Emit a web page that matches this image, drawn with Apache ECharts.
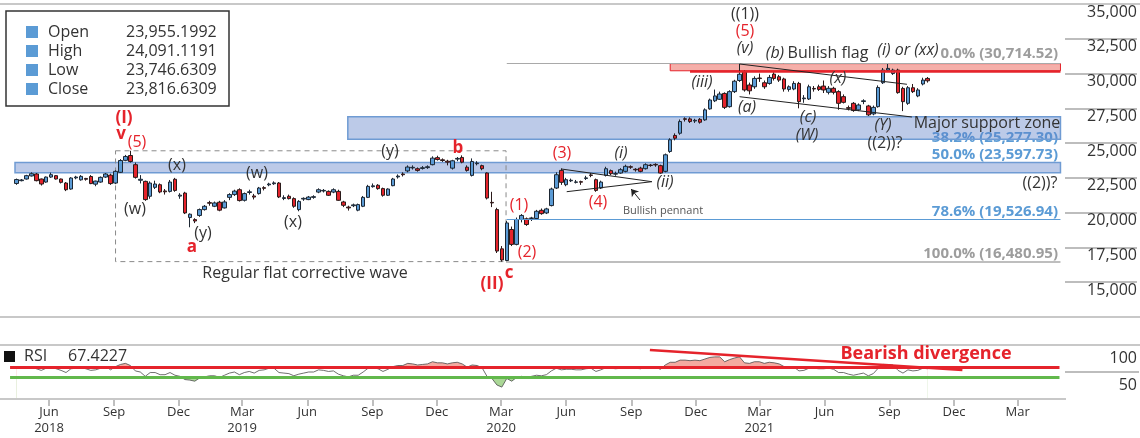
<!DOCTYPE html>
<html>
<head>
<meta charset="utf-8">
<script src="https://cdn.jsdelivr.net/npm/echarts@6/dist/echarts.min.js"></script>
<style>
html, body { margin: 0; padding: 0; background: #fff; }
#main { width: 1140px; height: 438px; }
</style>
</head>
<body>
<div id="main"></div>
<script>
// weekly candles, candle i starts firstWeek + 7*i days
var firstWeek = '2018-04-16';

var opens = [
  22100,22300,22420,22640,22780,22420,22200,22560,22660,22420,
  22130,21700,22500,22360,22460,22600,22050,22200,22560,22700,
  22130,22900,23760,24110,23450,22330,22250,21180,21820,22010,
  21560,21530,22400,21190,21410,19650,19500,19800,20220,20720,
  20460,20750,20340,21100,21300,21650,20890,21450,21200,21370,
  21800,22000,22080,22130,21020,21180,21010,20220,20980,20940,
  21100,21480,21560,21530,21480,21530,20770,20400,20500,20180,
  20460,21100,21870,21970,21730,21250,21940,22570,22780,23000,
  23220,23160,23180,23240,23450,23955.1992,23800,23700,23200,23850,
  23970,23270,22680,23520,23380,22850,20740,20220,17400,16560,
  18790,17720,19510,19560,19580,19580,20170,19980,20510,21770,
  23040,22010,22290,22180,22230,22460,22710,22370,21770,22680,
  23020,22770,22850,22970,23300,23120,23200,23160,23420,23470,
  23380,22970,24400,25550,25710,26750,26740,26590,26710,26670,
  27460,28040,28150,28570,27620,28700,29500,30130,29180,29050,
  29680,29340,29290,29960,29770,29610,28860,28890,29290,28190,
  28170,28930,29050,29100,28650,28940,28700,28340,27550,27860,
  27390,27990,27670,27100,27620,29340,30250,30000,30250,28930,
  27860,28980,28390,29250,29650
];
var closes = [
  22380,22350,22660,22800,22300,22060,22560,22730,22420,22180,
  21650,22490,22560,22610,22400,22090,22270,22540,22780,22090,
  22970,23750,24040,23680,22540,22400,20940,22130,22060,21490,
  21500,22200,21600,21260,19980,19890,19400,20220,20460,20680,
  20700,20180,20770,21300,21550,20870,21370,21500,21120,21770,
  21750,22060,22140,21130,21080,21010,20460,20810,21030,21120,
  21150,21650,21600,21250,21650,20890,20530,20340,20560,20580,
  21100,21890,21930,21730,21250,21700,22420,22630,22730,23280,
  23260,23040,23230,23300,23920,23816.6309,23750,23630,23730,23900,
  23630,23040,23680,23560,23160,21050,20700,17240,16600,19260,
  17720,19510,19800,19150,19620,20100,19930,20270,21700,22730,
  22180,22370,22330,22210,22190,22500,22680,21600,22200,23160,
  22800,22810,23090,23330,23270,23080,22970,23450,23390,23430,
  22850,24160,25240,25350,26550,26710,26550,26640,26500,27390,
  28100,28390,28530,27570,28700,29450,29950,28820,28760,29650,
  29640,29050,29720,29650,29530,28890,29050,29290,27980,28240,
  29050,28890,28860,28820,28940,28650,27860,27930,27500,27340,
  27740,28040,27030,27570,29000,30250,30370,30250,28630,27980,
  28980,28700,28820,29530,29480
];
var lows = [
  22000,22250,22380,22600,22250,21950,22150,22500,22380,22100,
  21550,21650,22400,22300,22300,22050,21900,22150,22500,22000,
  22050,22850,23700,23600,22450,22100,20850,21000,21700,21400,
  21300,21450,21500,21000,19900,18950,19250,19700,20150,20500,
  20400,20100,20300,20900,21200,20800,20800,21300,20950,21300,
  21600,21900,22000,21050,20900,20950,20350,20100,20850,20900,
  21000,21400,21450,21200,21400,20850,20400,20150,20400,20100,
  20400,21050,21800,21650,21150,21200,21900,22450,22600,22900,
  23100,22950,23100,23150,23400,23746.6309,23650,23400,23100,23700,
  23550,22950,22600,23400,23050,20950,20400,17100,16480.95,16500,
  17600,17650,19300,19050,19400,19500,19850,19900,20450,21700,
  22000,21900,22200,22100,22000,22350,22550,21500,21700,22600,
  22700,22650,22800,22900,23150,22950,22900,23100,23300,23300,
  22800,22900,24300,25200,25600,26550,26450,26450,26400,26600,
  27400,27950,28100,27450,27550,28600,29400,28700,28500,28900,
  29400,28900,29200,29500,29400,28700,28700,28800,27500,27900,
  28100,28700,28750,28600,28500,28500,27400,27850,27350,27250,
  27300,27800,26950,27000,27550,29250,30150,29900,28550,27300,
  27750,28600,28300,29150,29350
];
var highs = [
  22450,22420,22720,22900,22850,22450,22600,22880,22700,22450,
  22200,22550,22650,22700,22500,22700,22300,22600,22850,22800,
  23050,23850,24150,24448,23600,22700,22300,22250,22300,22100,
  21700,22350,22500,21400,21500,19950,19600,20300,20550,20850,
  20800,20850,20900,21400,21650,21750,21450,21650,21350,21850,
  21900,22150,22250,22200,21250,21300,21100,20900,21100,21200,
  21250,21750,21700,21600,21750,21650,20850,20500,20650,20650,
  21200,22000,22100,22050,21800,21750,22500,22750,22900,23400,
  23400,23250,23350,23400,24050,24091.1191,23900,23800,23800,24000,
  24120,23400,23900,23700,23450,22900,21500,20350,17600,19400,
  19000,19650,19900,19650,19700,20200,20300,20350,21800,22900,
  23180,22500,22450,22350,22300,22650,22850,22450,22300,23300,
  23100,22950,23200,23450,23400,23200,23300,23550,23500,23550,
  23450,24250,25350,25700,26700,26850,26850,26750,26800,27500,
  28200,28850,28700,28650,28800,29550,30714.52,30250,29350,29800,
  30000,29500,29900,30100,29900,29700,29150,29450,29400,28450,
  29200,29100,29200,29500,29100,29050,28800,28500,27700,27950,
  27850,28150,27750,27700,29150,30400,30750,30350,30350,29050,
  29100,29250,28950,29700,29750
];
var rsi = [
  57,58,59,60,56,53,57,59,56,53, 49,56,57,58,56,53,54,57,60,54,
  60,64,66,62,52,50,42,49,49,45, 45,49,44,42,36,35,33,39,41,43,
  43,40,44,48,50,45,49,51,48,53, 54,57,57,49,48,47,43,46,48,50,
  50,54,53,51,52,46,43,41,44,44, 50,57,58,56,51,55,60,62,62,66,
  65,63,64,65,69,67,67,65,67,68, 65,59,63,62,58,42,38,26,22,38,
  33,40,42,40,42,44,43,45,52,57, 54,55,55,54,54,56,57,51,54,58,
  57,56,57,59,58,57,56,59,58,59, 55,63,68,68,72,72,71,72,71,74,
  77,78,78,69,73,76,78,67,66,69, 69,66,68,67,65,60,57,59,52,53,
  57,57,56,56,57,55,49,49,46,44, 46,48,43,47,57,64,64,63,53,48,
  54,52,53,57,56
];
var rsiHigh = 58, rsiLow = 41;

var xTicks = ['2018-06-01','2018-09-01','2018-12-01','2019-03-01','2019-06-01','2019-09-01',
  '2019-12-01','2020-03-01','2020-06-01','2020-09-01','2020-12-01','2021-03-01','2021-06-01',
  '2021-09-01','2021-12-01','2022-03-01'];
var xTickLabels = ['Jun\n2018','Sep','Dec','Mar\n2019','Jun','Sep','Dec','Mar\n2020','Jun','Sep',
  'Dec','Mar\n2021','Jun','Sep','Dec','Mar'];

var fibNames = ['0.0%','38.2%','50.0%','78.6%','100.0%'];
var fibLevels = [30714.52, 25277.30, 23597.73, 19526.94, 16480.95];

var legendNames = ['Open','High','Low','Close'];
var legendValues = ['23,955.1992','24,091.1191','23,746.6309','23,816.6309'];
var rsiValueLabel = '67.4227';

var FONT = '"Open Sans", "Noto Sans", sans-serif';
var RED = '#e5232b', BLUE = '#5b9bd5', GREY = '#9d9d9d', INK = '#333';
var DAY = 864e5, WEEK = 7 * DAY;
var t0 = Date.parse(firstWeek);
function wk(i) { return t0 + i * WEEK; }
var xMin = Date.parse('2018-04-04'), xMax = Date.parse('2022-05-07');
var tickTimes = xTicks.map(function (d) { return Date.parse(d); });

var candles = opens.map(function (o, i) { return [wk(i), o, closes[i], lows[i], highs[i]]; });
var rsiLine = rsi.map(function (v, i) { return [wk(i), v]; });
// fills: red above rsiHigh, green below rsiLow (white layers mask the rest)
var redTop = rsi.map(function (v, i) { return [wk(i), Math.max(v, rsiHigh)]; });
var redMask = rsi.map(function (v, i) { return [wk(i), rsiHigh]; });
var greenTop = rsi.map(function (v, i) { return [wk(i), rsiLow]; });
var greenMask = rsi.map(function (v, i) { return [wk(i), Math.min(v, rsiLow)]; });

function fmt(v, d) {
  return v.toLocaleString('en-US', { minimumFractionDigits: d, maximumFractionDigits: d });
}

// zones and drawn lines, in chart coordinates
function zone(i1, v1, i2, v2, style) {
  return [{ coord: [wk(i1), v1], itemStyle: style }, { coord: [wk(i2), v2] }];
}
function seg(i1, v1, i2, v2, style, endSymbol) {
  return [{ coord: [wk(i1), v1], lineStyle: Object.assign({ type: 'solid' }, style), symbol: 'none' },
          { coord: [wk(i2), v2], symbol: endSymbol || 'none', symbolSize: 7 }];
}
var blueZone = { color: 'rgba(96,128,200,0.42)', borderColor: '#6f9bd3', borderWidth: 1.5 };
var zoneEnd = 210.8;

var mainAreas = [
  zone(-0.3, fibLevels[2], zoneEnd, 22870, blueZone),
  zone(66.9, 26900, zoneEnd, fibLevels[1], blueZone),
  zone(132, fibLevels[0], zoneEnd, 30200, { color: 'rgba(236,96,84,0.5)', borderColor: RED, borderWidth: 1 }),
  zone(20, 24448, 98.85, fibLevels[4], { color: 'rgba(0,0,0,0)', borderColor: '#8a8a8a', borderWidth: 1, borderType: [5, 4] })
];
var thin = { color: '#222', width: 1 };
var mainLines = [
  seg(99, fibLevels[0], zoneEnd, fibLevels[0], { color: '#a9a9a9', width: 1 }),
  seg(99, fibLevels[3], zoneEnd, fibLevels[3], { color: BLUE, width: 1.2 }),
  seg(98.85, fibLevels[4], zoneEnd, fibLevels[4], { color: '#a9a9a9', width: 1.5 }),
  seg(136, 30200, zoneEnd, 30200, { color: RED, width: 2.5 }),
  seg(110, 23140, 128.3, 22227, thin),
  seg(111.1, 21508, 128.3, 22227, thin),
  seg(125.9, 20911, 124.1, 21702, thin, 'arrow'),
  seg(146, 30687, 179.8, 29228, thin),
  seg(146, 28337, 180.8, 26878, thin),
  seg(146, 30687, 146, 30200, thin)
];

// text notes: [text, x, y, kind]
var notes = [
  ['((1))', 745, 14, 'g'], ['(5)', 745, 31, 'r'], ['(v)', 745, 48, 'gi'],
  ['(I)', 124, 118, 'rb'], ['v', 121, 134, 'rb'], ['(5)', 137, 142, 'r'],
  ['(x)', 177, 165, 'g'], ['(w)', 135, 209, 'g'], ['(y)', 203, 233, 'g'], ['a', 192, 247, 'rb'],
  ['(w)', 257, 173, 'g'], ['(x)', 293, 222, 'g'], ['(y)', 390, 151, 'g'], ['b', 458, 148, 'rb'],
  ['c', 509, 273, 'rb'], ['(II)', 492, 284, 'rb'], ['(1)', 519, 205, 'r'], ['(2)', 527, 252, 'r'],
  ['(3)', 562, 153, 'r'], ['(4)', 598, 202, 'r'], ['(i)', 621, 153, 'gi'], ['(ii)', 665, 182, 'gi'],
  ['(iii)', 702, 82, 'gi'], ['(a)', 747, 107, 'gi'], ['(b)', 775, 53, 'gi'], ['Bullish flag', 828, 53, 'g'],
  ['(x)', 838, 78, 'gi'], ['(c)', 808, 117, 'gi'], ['(W)', 807, 135, 'gi'], ['(Y)', 883, 125, 'gi'],
  ['((2))?', 885, 143, 'g'], ['(i) or (xx)', 908, 50, 'gi'], ['Major support zone', 987, 123, 'g'],
  ['((2))?', 1040, 183, 'g'], ['Regular flat corrective wave', 305, 273, 'g'], ['Bullish pennant', 663, 211, 's']
];
var kinds = {
  g: { fill: INK, fontSize: 16 },
  gi: { fill: INK, fontSize: 16, fontStyle: 'italic' },
  r: { fill: RED, fontSize: 16 },
  rb: { fill: RED, fontSize: 17, fontWeight: 'bold' },
  s: { fill: '#555', fontSize: 11 }
};
var fibY = [54, 138, 155, 212, 254];
var fibColor = [GREY, BLUE, BLUE, BLUE, GREY];

function txt(text, x, y, st, z) {
  return {
    type: 'text', z: z == null ? 100 : z, silent: true,
    style: Object.assign({ text: text, x: x, y: y, fontFamily: FONT, align: 'center', verticalAlign: 'middle' }, st)
  };
}
function hline(x1, x2, y, color, w) {
  return { type: 'line', z: 50, silent: true, shape: { x1: x1, y1: y, x2: x2, y2: y }, style: { stroke: color, lineWidth: w } };
}

var graphics = [
  hline(0, 1140, 4, '#c8c8c8', 2),
  hline(0, 1140, 317, '#c8c8c8', 2),
  hline(0, 1140, 345, '#c8c8c8', 2),
  hline(0, 1066, 399, '#c8c8c8', 2),
  { type: 'rect', z: 100, shape: { x: 6, y: 11, width: 223, height: 95 }, style: { fill: '#fff', stroke: '#333', lineWidth: 1.5 } },
  { type: 'rect', z: 100, shape: { x: 4, y: 351, width: 11, height: 11 }, style: { fill: '#111' } },
  txt('RSI', 24, 356, { fill: INK, fontSize: 16, align: 'left' }),
  txt(rsiValueLabel, 68, 356, { fill: INK, fontSize: 16, align: 'left' }),
  txt('Bearish divergence', 926, 354, { fill: RED, fontSize: 18, fontWeight: 'bold' })
];
legendNames.forEach(function (n, k) {
  var y = 32 + k * 19;
  graphics.push({ type: 'rect', z: 101, shape: { x: 26, y: y - 6, width: 12, height: 12 }, style: { fill: BLUE } });
  graphics.push(txt(n, 48, y, { fill: INK, fontSize: 16, align: 'left' }, 101));
  graphics.push(txt(legendValues[k], 126, y, { fill: INK, fontSize: 16, align: 'left' }, 101));
});
notes.forEach(function (n) { graphics.push(txt(n[0], n[1], n[2], kinds[n[3]])); });
fibNames.forEach(function (n, k) {
  graphics.push(txt(n + ' (' + fmt(fibLevels[k], 2) + ')', 1058, fibY[k],
    { fill: fibColor[k], fontSize: 15, fontWeight: 'bold', align: 'right' }, 1));
});

function areaSeries(data, color) {
  return {
    type: 'line', xAxisIndex: 1, yAxisIndex: 1, data: data, symbol: 'none', silent: true, z: 1, clip: true,
    lineStyle: { width: 0, opacity: 0, color: color }, itemStyle: { color: color },
    areaStyle: { color: color, opacity: 1, origin: 'start' }
  };
}

var chart = echarts.init(document.getElementById('main'));
chart.setOption({
  animation: false,
  backgroundColor: '#fff',
  textStyle: { fontFamily: FONT },
  grid: [
    { left: 8, right: 75, top: 4, height: 313 },
    { left: 8, right: 75, top: 345, height: 54 }
  ],
  xAxis: [
    { type: 'value', gridIndex: 0, min: xMin, max: xMax, show: false, splitLine: { show: false } },
    {
      type: 'value', gridIndex: 1, min: xMin, max: xMax,
      axisLine: { show: false },
      axisTick: { show: true, customValues: tickTimes, length: 7, lineStyle: { color: '#aaa', width: 1.5 } },
      axisLabel: {
        customValues: tickTimes, color: INK, fontSize: 13, lineHeight: 16, margin: 5, fontFamily: FONT,
        formatter: function (v) { var k = tickTimes.indexOf(v); return k < 0 ? '' : xTickLabels[k]; }
      },
      splitLine: { show: false }
    }
  ],
  yAxis: [
    {
      type: 'value', gridIndex: 0, position: 'right', min: 12500, max: 35000, interval: 2500,
      axisLine: { show: false },
      axisTick: { show: true, length: 72, lineStyle: { color: '#a8a8a8', width: 1.5 } },
      axisLabel: {
        margin: 72, align: 'right', verticalAlign: 'top', color: INK, fontSize: 16, fontFamily: FONT,
        formatter: function (v) { return v === 12500 ? '' : fmt(v, 0); }
      },
      splitLine: { show: false }
    },
    {
      type: 'value', gridIndex: 1, position: 'right', min: 0, max: 100, interval: 50,
      axisLine: { show: false },
      axisTick: { show: true, customValues: [50], length: 74, lineStyle: { color: '#a8a8a8', width: 1.5 } },
      axisLabel: {
        customValues: [50, 100], margin: 72, align: 'right', verticalAlign: 'top', padding: [5, 0, 0, 0],
        color: INK, fontSize: 16, fontFamily: FONT,
        formatter: function (v) { return v === 0 ? '' : String(v); }
      },
      splitLine: { show: false }
    }
  ],
  series: [
    {
      type: 'candlestick', xAxisIndex: 0, yAxisIndex: 0, data: candles, barWidth: 4, z: 2,
      itemStyle: { color: BLUE, color0: RED, borderColor: '#1d2733', borderColor0: '#2a1a1a', borderWidth: 1 }
    },
    {
      type: 'line', xAxisIndex: 0, yAxisIndex: 0, data: [], z: 5, silent: true,
      markArea: { silent: true, data: mainAreas },
      markLine: { silent: true, symbol: 'none', label: { show: false }, lineStyle: { type: 'solid' }, data: mainLines }
    },
    areaSeries(redTop, 'rgb(244,170,160)'),
    areaSeries(redMask, '#ffffff'),
    areaSeries(greenTop, 'rgb(170,215,150)'),
    areaSeries(greenMask, '#ffffff'),
    {
      type: 'line', xAxisIndex: 1, yAxisIndex: 1, data: rsiLine, symbol: 'none', z: 4,
      lineStyle: { color: '#4a4a4a', width: 0.8 },
      markLine: {
        silent: true, symbol: 'none', label: { show: false }, lineStyle: { type: 'solid' },
        data: [
          seg(-1.3, rsiHigh, 210.6, rsiHigh, { color: RED, width: 3 }),
          seg(-1.3, rsiLow, 210.6, rsiLow, { color: '#62b84c', width: 3 }),
          seg(127.9, 90.7, 191, 53.7, { color: RED, width: 2.5 })
        ]
      }
    }
  ],
  graphic: graphics
});
</script>
</body>
</html>
